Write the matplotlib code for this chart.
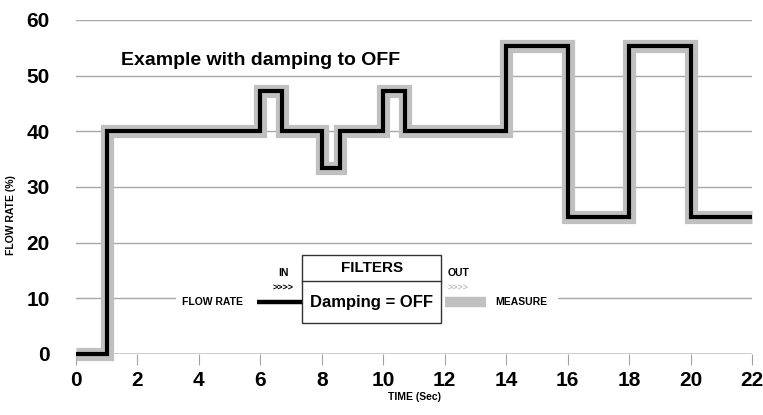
import matplotlib.pyplot as plt
from matplotlib.patches import Rectangle

# flow rate steps (time in sec, value in %)
times = [0, 1, 6, 6.7, 8, 8.6, 10, 10.7, 14, 16, 18, 20, 22]
flow = [0, 40, 47.3, 40, 33.4, 40, 47.3, 40, 55.4, 24.6, 55.4, 24.6, 24.6]

x_ticks = [0, 2, 4, 6, 8, 10, 12, 14, 16, 18, 20, 22]
y_ticks = [0, 10, 20, 30, 40, 50, 60]

plt.rcParams['font.family'] = ['Liberation Sans', 'DejaVu Sans']
plt.rcParams['font.weight'] = 'bold'
plt.rcParams['axes.labelweight'] = 'bold'

fig = plt.figure(figsize=(7.63, 4.15), dpi=100)
ax = fig.add_axes([0.0996, 0.147, 0.886, 0.805])
ax.set_xlim(0, 22)
ax.set_ylim(0, 60)

# grid lines, black line at zero
for v in y_ticks[1:]:
    ax.axhline(v, color='#a8a8a8', lw=1.0, zorder=1)
ax.axhline(0, color='black', lw=1.0, zorder=1)

# measured output (grey) under the input (black)
ax.plot(times, flow, drawstyle='steps-post', color='#c0c0c0', lw=9.5,
        solid_joinstyle='miter', solid_capstyle='butt', clip_on=False, zorder=3)
ax.plot(times, flow, drawstyle='steps-post', color='black', lw=3.0,
        solid_joinstyle='miter', solid_capstyle='butt', clip_on=False, zorder=4)

ax.text(1.45, 52.8, 'Example with damping to OFF', fontsize=14,
        ha='left', va='center', zorder=5)

# filter diagram
ax.add_patch(Rectangle((3.25, 7.2), 12.45, 4.4, facecolor='white',
                       edgecolor='none', zorder=2))
ax.add_patch(Rectangle((7.36, 5.6), 4.53, 12.1, facecolor='white',
                       edgecolor='#333333', lw=1.0, zorder=5))
ax.plot([7.36, 11.89], [13.1, 13.1], color='#333333', lw=1.0, zorder=6)
ax.text(9.62, 15.4, 'FILTERS', fontsize=11, ha='center', va='center', zorder=6)
ax.text(9.62, 9.3, 'Damping = OFF', fontsize=12, ha='center', va='center', zorder=6)

ax.plot([5.9, 7.36], [9.3, 9.3], color='black', lw=3.2,
        solid_capstyle='butt', zorder=5)
ax.text(5.45, 9.3, 'FLOW RATE', fontsize=7.5, ha='right', va='center', zorder=5)
ax.text(6.75, 14.5, 'IN', fontsize=7.5, ha='center', va='center', zorder=5)
ax.text(6.75, 11.9, '>>>>', fontsize=6.5, ha='center', va='center', zorder=5)

ax.plot([12.02, 13.35], [9.3, 9.3], color='#c0c0c0', lw=7.5,
        solid_capstyle='butt', zorder=5)
ax.text(12.45, 14.5, 'OUT', fontsize=7.5, ha='center', va='center', zorder=5)
ax.text(12.45, 11.9, '>>>>', fontsize=6.5, ha='center', va='center',
        color='#c0c0c0', zorder=5)
ax.text(13.65, 9.3, 'MEASURE', fontsize=7.5, ha='left', va='center', zorder=5)

for s in ax.spines.values():
    s.set_visible(False)

ax.set_xticks(x_ticks)
ax.set_yticks(y_ticks)
ax.tick_params(axis='x', length=8, color='#a0a0a0', pad=4, labelsize=15)
ax.tick_params(axis='y', length=0, pad=19, labelsize=15)

ax.set_xlabel('TIME (Sec)', fontsize=7.5, labelpad=2)
ax.set_ylabel('FLOW RATE (%)', fontsize=7.5)
ax.yaxis.set_label_coords(-0.089, 0.416)

fig.savefig('out.png', dpi=100)
